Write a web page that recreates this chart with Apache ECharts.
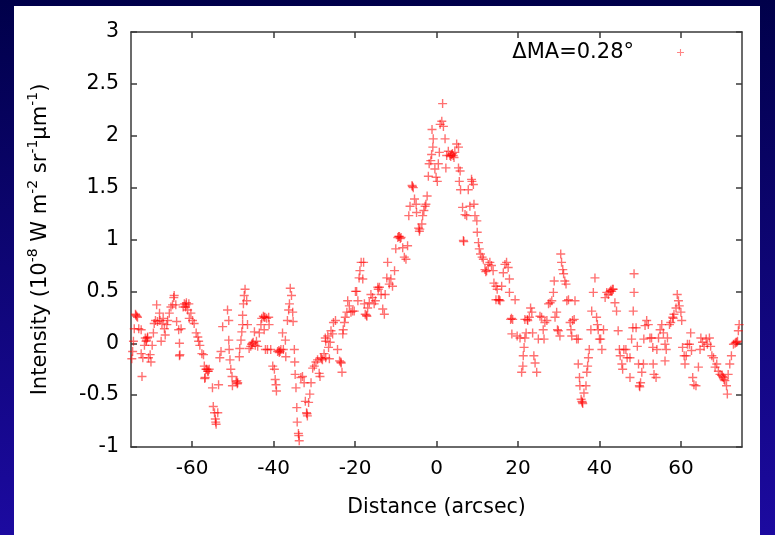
<!DOCTYPE html>
<html>
<head>
<meta charset="utf-8">
<script src="https://cdn.jsdelivr.net/npm/echarts@6/dist/echarts.min.js"></script>
<style>
html,body{margin:0;padding:0;background:#0a0a70;}
#chart{width:775px;height:535px;}
</style>
</head>
<body>
<div id="chart"></div>
<script>
// ---- data: [distance (arcsec), intensity (1e-8 W m^-2 sr^-1 um^-1)] ----
const westFar = [[-74.8,-0.15],[-74.6,-0.08],[-74.4,0.02],[-74.2,0.14],[-73.9,0.28],[-73.8,0.27],[-73.6,0.26],[-73.4,0.25],[-73.1,0.14],[-72.5,0.13],[-72.5,-0.10],[-72.3,-0.32],[-72.1,-0.14],[-71.7,-0.02],[-71.5,0.05],[-71.3,0.02],[-71.2,0.03],[-71.0,0.05],[-70.9,0.06],[-70.7,-0.14],[-70.3,-0.11],[-70.1,-0.18],[-69.8,-0.02],[-69.5,0.10],[-69.3,0.19],[-69.0,0.22],[-68.7,0.37],[-68.5,0.21],[-68.0,0.29],[-67.9,0.22],[-67.6,0.02],[-67.4,0.19],[-67.1,0.24],[-66.8,0.14],[-66.6,0.08],[-66.2,0.18],[-66.0,0.22],[-65.6,0.29],[-65.2,0.35],[-64.8,0.37],[-64.5,0.44],[-64.4,0.46],[-64.0,0.37],[-63.8,0.21],[-63.3,0.13],[-63.1,0.0],[-63.1,-0.12],[-63.0,-0.11],[-62.7,0.14],[-62.2,0.35],[-61.9,0.38],[-61.6,0.35],[-61.5,0.37],[-61.4,0.39],[-61.1,0.32],[-60.8,0.38],[-60.7,0.24],[-60.3,0.29],[-59.9,0.22],[-59.5,0.19],[-59.0,0.10],[-58.6,0.06],[-58.4,0.02],[-58.1,-0.02],[-57.6,-0.10],[-57.2,-0.11],[-57.0,-0.22],[-56.9,-0.34],[-56.8,-0.33],[-56.6,-0.25],[-56.4,-0.25],[-56.2,-0.27],[-56.0,-0.27],[-55.8,-0.25],[-55.0,-0.43],[-54.8,-0.61],[-54.5,-0.67],[-54.3,-0.73],[-54.2,-0.76],[-54.1,-0.78],[-53.7,-0.67],[-53.5,-0.40],[-53.2,-0.14],[-52.9,-0.08],[-52.5,0.16]];
const westNear = [[-51.3,0.32],[-51.0,0.22],[-51.0,0.03],[-50.9,-0.06],[-50.7,-0.16],[-50.5,-0.25],[-50.2,-0.32],[-50.1,-0.41],[-49.2,-0.37],[-49.0,-0.36],[-48.9,-0.39],[-48.8,-0.38],[-48.4,-0.13],[-48.3,-0.05],[-48.0,0.03],[-47.8,0.11],[-47.6,0.18],[-47.6,0.27],[-47.4,0.38],[-47.2,0.46],[-47.0,0.52],[-46.6,0.41],[-46.4,0.18],[-46.0,-0.05],[-45.6,-0.03],[-45.4,-0.01],[-45.2,0.0],[-45.0,0.01],[-44.7,0.11],[-44.5,-0.02],[-44.2,0.02],[-43.9,-0.03],[-43.5,0.10],[-43.1,0.18],[-42.9,0.24],[-42.5,0.26],[-42.3,0.25],[-42.1,0.25],[-41.7,0.24],[-41.2,0.25],[-41.1,0.18],[-42.3,0.13],[-42.0,-0.06],[-41.5,-0.06],[-40.7,-0.06],[-40.2,-0.22],[-39.8,-0.25],[-39.6,-0.35],[-39.4,-0.40],[-39.3,-0.46],[-39.0,-0.08],[-38.7,-0.07],[-38.6,-0.09],[-38.4,-0.08],[-38.2,-0.06],[-37.8,0.10],[-37.6,-0.06],[-37.1,0.03],[-37.0,-0.13],[-36.6,0.22],[-36.3,0.32],[-36.1,0.38],[-35.9,0.53],[-35.6,0.46],[-35.3,0.30],[-35.2,0.21],[-34.9,-0.06],[-34.8,-0.18],[-34.7,-0.30],[-34.5,-0.43],[-34.3,-0.62],[-34.2,-0.76],[-33.9,-0.87],[-33.8,-0.89],[-33.7,-0.94],[-33.3,-0.33],[-32.9,-0.32],[-32.5,-0.38],[-32.2,-0.56],[-31.9,-0.67],[-31.8,-0.68],[-31.7,-0.70],[-31.4,-0.57],[-31.1,-0.49],[-30.8,-0.38],[-30.4,-0.24],[-30.0,-0.22],[-29.6,-0.18],[-29.2,-0.16],[-28.8,-0.29],[-28.6,-0.32],[-28.4,-0.14],[-28.2,-0.15],[-28.0,-0.16],[-27.6,-0.10],[-27.3,0.05],[-27.2,-0.14],[-27.2,0.02]];
const riseWest = [[-26.7,0.07],[-26.5,-0.04],[-26.3,-0.15],[-26.1,0.01],[-25.9,0.12],[-25.5,0.09],[-25.3,0.20],[-24.8,0.22],[-24.3,-0.06],[-23.8,-0.17],[-23.5,-0.18],[-23.4,-0.19],[-23.2,-0.28],[-23.0,0.09],[-22.9,0.13],[-22.6,0.20],[-22.4,0.25],[-22.0,0.30],[-21.8,0.41],[-21.4,0.36],[-21.0,0.30],[-20.6,0.31],[-20.2,0.31],[-19.9,0.50],[-19.6,0.50],[-19.3,0.41],[-19.0,0.63],[-18.8,0.70],[-18.5,0.78],[-18.1,0.62],[-17.9,0.78],[-17.7,0.38],[-17.5,0.28],[-17.2,0.27],[-17.1,0.26],[-16.9,0.34],[-16.5,0.39],[-16.1,0.47],[-15.7,0.44],[-15.3,0.38],[-15.0,0.41],[-14.4,0.54],[-14.3,0.52],[-14.0,0.54],[-13.6,0.47],[-13.2,0.33],[-12.8,0.28],[-12.6,0.47],[-12.2,0.63],[-12.0,0.78],[-11.6,0.57],[-11.2,0.62],[-10.8,0.55],[-10.3,0.70],[-10.0,0.91],[-9.5,1.02],[-9.3,1.03],[-9.1,1.03],[-8.9,1.01],[-8.7,1.02],[-8.3,0.92],[-7.9,0.83],[-7.5,0.81],[-7.1,0.94],[-6.8,1.23],[-6.5,1.32],[-6.0,1.52],[-5.9,1.51],[-5.7,1.50],[-5.4,1.39],[-5.0,1.34],[-4.9,1.26],[-4.4,1.11],[-4.2,1.08],[-4.1,1.10]];
const peak = [[-3.6,1.15],[-3.4,1.23],[-3.1,1.28],[-2.8,1.32],[-2.6,1.34],[-2.3,1.42],[-2.0,1.61],[-1.8,1.73],[-1.4,1.76],[-1.2,1.82],[-0.9,1.89],[-0.8,1.97],[-1.1,2.06],[-0.4,1.68],[-0.1,1.60],[0.2,1.56],[0.45,1.73],[0.7,1.84],[0.9,2.11],[1.3,2.14],[1.5,2.31],[1.7,2.09],[2.1,1.97],[2.3,1.69],[2.5,1.81],[2.9,1.85],[3.3,1.81],[3.5,1.80],[3.7,1.82],[3.9,1.83],[4.1,1.81],[4.3,1.79],[4.5,1.84],[4.95,1.92],[5.4,1.89],[5.4,1.69],[5.8,1.66],[5.6,1.56],[5.9,1.48],[6.4,1.31],[6.6,0.99],[6.7,0.98],[7.0,1.24],[7.4,1.23],[7.8,1.48],[8.2,1.32],[8.6,1.58],[8.7,1.56],[9.05,1.53],[9.2,1.34],[9.45,1.23],[9.9,1.18],[10.0,1.07],[10.3,0.97],[10.5,0.91],[10.8,0.86],[11.2,0.83],[11.5,0.81],[11.9,0.71],[12.1,0.69],[12.3,0.70],[12.7,0.76],[13.1,0.78],[13.5,0.75],[13.9,0.70],[14.1,0.58],[14.6,0.55],[14.9,0.52],[14.6,0.42],[15.2,0.42],[15.4,0.42],[15.6,0.41],[16.0,0.55],[16.4,0.68],[16.8,0.76],[17.2,0.78],[17.6,0.73],[17.9,0.62],[17.9,0.49],[18.2,0.23],[18.4,0.24],[18.7,0.23],[19.3,0.42],[18.5,0.09],[19.8,0.07],[20.5,0.05]];
const eastNear = [[20.9,-0.28],[21.2,-0.22],[21.3,-0.12],[21.5,-0.04],[21.7,0.05],[21.7,0.23],[22.0,0.10],[22.3,0.23],[22.4,0.22],[22.8,0.25],[23.1,0.34],[23.4,0.30],[23.6,0.10],[23.9,-0.12],[24.2,-0.19],[24.6,-0.28],[25.0,0.04],[25.4,0.26],[25.8,0.25],[26.2,0.13],[26.4,0.04],[26.6,0.20],[27.1,0.22],[27.5,0.38],[27.9,0.39],[28.3,0.41],[28.7,0.49],[28.9,0.60],[29.1,0.25],[29.5,0.30],[29.7,0.13],[29.9,0.12],[30.3,0.07],[30.5,0.86],[30.7,0.78],[31.0,0.71],[31.2,0.67],[31.5,0.60],[31.8,0.57],[32.0,0.41],[32.4,0.42],[32.8,0.20],[33.0,0.13],[33.2,0.07],[33.4,0.22],[33.8,0.23],[34.0,0.41],[34.4,0.04],[34.8,0.04],[34.8,-0.20],[35.1,-0.33],[35.2,-0.41],[35.5,-0.54],[35.7,-0.56],[35.8,-0.57],[35.9,-0.58],[36.2,-0.48],[36.7,-0.41],[36.9,-0.28],[37.1,-0.22],[37.3,-0.14],[37.5,-0.06],[37.9,0.13],[38.1,0.31],[38.5,0.49],[38.9,0.63],[39.3,0.25],[39.5,0.18],[39.7,0.13],[40.0,0.04],[40.3,0.04],[40.6,-0.06],[41.0,0.13],[41.4,0.44],[41.8,0.49],[42.2,0.47],[42.6,0.50],[42.8,0.51],[43.0,0.50],[43.2,0.52],[43.4,0.52],[43.8,0.39],[44.2,0.31],[44.6,0.12],[44.9,-0.06],[45.1,-0.12],[45.5,-0.20],[45.7,-0.25],[46.0,-0.06],[46.5,-0.06],[46.8,-0.14]];
const eastFar = [[47.5,-0.14],[47.5,-0.33],[47.9,0.04],[48.2,0.15],[48.3,0.31],[48.5,0.49],[48.5,0.67],[49.0,0.15],[49.3,-0.03],[49.6,-0.20],[49.8,-0.41],[49.9,-0.42],[50.1,-0.38],[50.4,-0.28],[50.8,-0.20],[50.9,0.04],[51.2,0.17],[51.6,0.22],[52.0,0.18],[52.4,0.05],[52.8,0.05],[53.1,-0.04],[53.2,-0.20],[53.4,-0.30],[53.9,-0.33],[54.1,-0.06],[54.5,0.05],[54.9,0.13],[55.3,0.18],[55.7,0.10],[56.1,-0.01],[56.4,-0.06],[56.1,-0.17],[56.7,0.05],[57.2,0.18],[57.5,0.20],[58.0,0.25],[58.1,0.24],[58.3,0.28],[58.8,0.34],[59.1,0.47],[59.4,0.41],[59.6,0.36],[60.0,0.30],[60.2,0.22],[60.4,-0.04],[60.8,-0.12],[61.0,-0.20],[61.3,-0.12],[61.6,-0.01],[62.1,-0.01],[62.4,0.10],[62.6,-0.07],[62.9,-0.33],[63.2,-0.40],[63.7,-0.41],[64.3,-0.23],[64.7,-0.06],[64.9,0.05],[65.3,0.01],[65.7,-0.03],[66.2,0.04],[66.5,-0.01],[67.0,0.05],[67.3,-0.03],[67.6,-0.12],[68.0,-0.14],[68.4,-0.23],[68.8,-0.20],[69.2,-0.27],[69.6,-0.30],[70.0,-0.31],[70.2,-0.32],[70.4,-0.33],[70.6,-0.35],[70.8,-0.36],[71.2,-0.41],[71.4,-0.49],[71.6,-0.30],[72.0,-0.20],[72.4,-0.12],[72.9,-0.01],[73.3,0.0],[73.5,0.01],[73.7,0.01],[73.9,0.02],[74.1,0.12],[74.3,0.18]];

const xTicks = [-60,-40,-20,0,20,40,60];
const yTickLabels = ['-1','-0.5','0','0.5','1','1.5','2','2.5','3'];
const legendLabel = 'ΔMA=0.28°';
const xTitle = 'Distance (arcsec)';

const points = [].concat(westFar, westNear, riseWest, peak, eastNear, eastFar);

const FONT = 'DejaVu Sans';
const PLUS = 'path://M3.8,0H5.2V3.8H9V5.2H5.2V9H3.8V5.2H0V3.8H3.8Z';
const axisLineStyle = {color:'#3a3a3a', width:1.5};

const chart = echarts.init(document.getElementById('chart'), null, {renderer:'canvas'});
chart.setOption({
  animation:false,
  backgroundColor:{type:'linear', x:0, y:0, x2:0, y2:1, colorStops:[{offset:0,color:'#00004a'},{offset:1,color:'#1c0aa0'}]},
  graphic:[{type:'rect', shape:{x:14, y:6, width:746, height:529}, style:{fill:'#ffffff'}, silent:true, z:-10}],
  grid:{left:131, right:33, top:32, bottom:88, containLabel:false},
  legend:{
    data:[legendLabel], right:86, top:37, align:'right', icon:PLUS, itemWidth:7, itemHeight:7,
    textStyle:{fontFamily:FONT, fontSize:21, color:'#000', padding:[0,38,0,0]},
    itemStyle:{color:'rgba(255,0,0,0.6)'}
  },
  xAxis:[{
    type:'value', min:-75, max:75, position:'bottom',
    name:xTitle, nameLocation:'middle', nameGap:50,
    nameTextStyle:{fontFamily:FONT, fontSize:20.5, color:'#000'},
    axisLine:{show:true, onZero:false, lineStyle:axisLineStyle},
    axisTick:{show:true, inside:true, length:6, customValues:xTicks, lineStyle:axisLineStyle},
    axisLabel:{show:true, customValues:xTicks, margin:12, fontFamily:FONT, fontSize:20, color:'#000'},
    splitLine:{show:false}
  },{
    type:'value', min:-75, max:75, position:'top',
    axisLine:{show:true, onZero:false, lineStyle:axisLineStyle},
    axisTick:{show:true, inside:true, length:6, customValues:xTicks, lineStyle:axisLineStyle},
    axisLabel:{show:false}, splitLine:{show:false}
  }],
  yAxis:[{
    type:'value', min:-1, max:3, interval:0.5, position:'left',
    name:'{n|Intensity (10}{s|-8}{n| W m}{s|-2}{n| sr}{s|-1}{n|μm}{s|-1}{n|)}',
    nameLocation:'middle', nameRotate:90, nameGap:80,
    nameTextStyle:{fontFamily:FONT, fontSize:21, color:'#000',
      rich:{n:{fontFamily:FONT, fontSize:21, color:'#000', lineHeight:25, verticalAlign:'bottom'},
            s:{fontFamily:FONT, fontSize:14, color:'#000', lineHeight:25, verticalAlign:'top'}}},
    axisLine:{show:true, onZero:false, lineStyle:axisLineStyle},
    axisTick:{show:true, inside:true, length:6, lineStyle:axisLineStyle},
    axisLabel:{show:true, margin:12, fontFamily:FONT, fontSize:20.5, color:'#000',
      formatter:function(v){ const i = Math.round((v+1)/0.5); return yTickLabels[i]; }},
    splitLine:{show:false}
  },{
    type:'value', min:-1, max:3, interval:0.5, position:'right',
    axisLine:{show:true, onZero:false, lineStyle:axisLineStyle},
    axisTick:{show:true, inside:true, length:6, lineStyle:axisLineStyle},
    axisLabel:{show:false}, splitLine:{show:false}
  }],
  series:[{
    name:legendLabel, type:'scatter', xAxisIndex:0, yAxisIndex:0,
    symbol:PLUS, symbolSize:9,
    itemStyle:{color:'rgba(255,0,0,0.7)'},
    data:points
  }]
});
</script>
</body>
</html>
